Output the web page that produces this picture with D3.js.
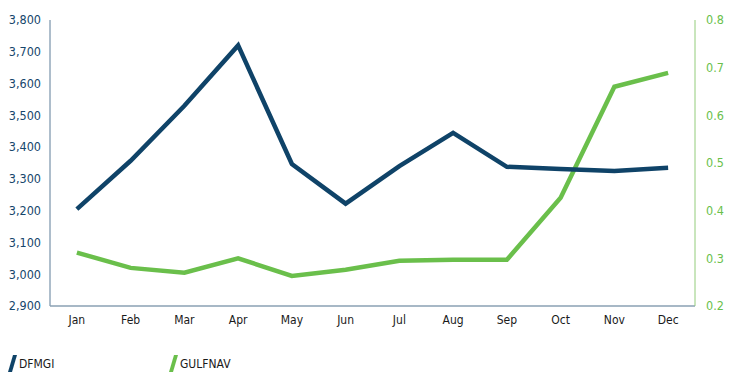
<!DOCTYPE html>
<html>
<head>
<meta charset="utf-8">
<script src="https://cdn.jsdelivr.net/npm/d3@7"></script>
<style>
  body { margin: 0; background: #fff; }
  svg { display: block; font-family: "DejaVu Sans", sans-serif; font-stretch: condensed; }
  .tick-left { fill: #16466b; font-size: 12.5px; }
  .tick-right { fill: #6abf4b; font-size: 12.5px; }
  .month { fill: #1a1a1a; font-size: 12px; }
  .legend-text { fill: #1a1a1a; font-size: 12px; }
</style>
</head>
<body>
<div id="chart"></div>
<script>
var months = ['Jan', 'Feb', 'Mar', 'Apr', 'May', 'Jun', 'Jul', 'Aug', 'Sep', 'Oct', 'Nov', 'Dec'];
var dfmgi = [3205, 3357, 3530, 3720, 3347, 3222, 3340, 3445, 3338, 3331, 3325, 3335];
var gulfnav = [0.312, 0.280, 0.270, 0.300, 0.263, 0.276, 0.295, 0.297, 0.297, 0.427, 0.660, 0.689];
var leftTicks = [2900, 3000, 3100, 3200, 3300, 3400, 3500, 3600, 3700, 3800];
var rightTicks = [0.2, 0.3, 0.4, 0.5, 0.6, 0.7, 0.8];
var seriesNames = ['DFMGI', 'GULFNAV'];

var width = 750;
var height = 380;
var navy = '#0f4368';
var green = '#6abf4b';

var plotLeft = 50, plotRight = 695, plotTop = 20, plotBottom = 306;

var svg = d3.select('#chart')
  .append('svg')
  .attr('width', width)
  .attr('height', height);

var x = d3.scalePoint().domain(months).range([plotLeft, plotRight]).padding(0.5);
var yL = d3.scaleLinear().domain([2900, 3800]).range([plotBottom, plotTop]);
var yR = d3.scaleLinear().domain([0.2, 0.8]).range([plotBottom, plotTop]);

// axes lines
svg.append('line')
  .attr('x1', plotLeft).attr('x2', plotLeft).attr('y1', plotTop).attr('y2', plotBottom)
  .attr('stroke', '#5d7d98').attr('stroke-width', 1);
svg.append('line')
  .attr('x1', plotLeft).attr('x2', plotRight).attr('y1', plotBottom).attr('y2', plotBottom)
  .attr('stroke', '#8aa0b3').attr('stroke-width', 1.5);
svg.append('line')
  .attr('x1', plotRight).attr('x2', plotRight).attr('y1', plotTop).attr('y2', plotBottom)
  .attr('stroke', '#93cc7a').attr('stroke-width', 1);

// tick labels
var fmt = d3.format(',');
svg.selectAll('.tick-left')
  .data(leftTicks)
  .enter().append('text')
  .attr('class', 'tick-left')
  .attr('x', 41)
  .attr('y', function (d) { return yL(d); })
  .attr('dy', '0.35em')
  .attr('text-anchor', 'end')
  .text(function (d) { return fmt(d); });

svg.selectAll('.tick-right')
  .data(rightTicks)
  .enter().append('text')
  .attr('class', 'tick-right')
  .attr('x', 706)
  .attr('y', function (d) { return yR(d); })
  .attr('dy', '0.35em')
  .text(function (d) { return d.toFixed(1); });

svg.selectAll('.month')
  .data(months)
  .enter().append('text')
  .attr('class', 'month')
  .attr('x', function (d) { return x(d); })
  .attr('y', 324)
  .attr('text-anchor', 'middle')
  .text(function (d) { return d; });

// lines
var lineL = d3.line()
  .x(function (d, i) { return x(months[i]); })
  .y(function (d) { return yL(d); });
var lineR = d3.line()
  .x(function (d, i) { return x(months[i]); })
  .y(function (d) { return yR(d); });

svg.append('path')
  .attr('d', lineR(gulfnav))
  .attr('fill', 'none')
  .attr('stroke', green)
  .attr('stroke-width', 4.5)
  .attr('stroke-linejoin', 'miter');

svg.append('path')
  .attr('d', lineL(dfmgi))
  .attr('fill', 'none')
  .attr('stroke', navy)
  .attr('stroke-width', 4.5)
  .attr('stroke-linejoin', 'miter');

// legend
var legendX = [8, 169];
var legendColors = [navy, green];
var legend = svg.selectAll('.legend')
  .data(seriesNames)
  .enter().append('g')
  .attr('class', 'legend')
  .attr('transform', function (d, i) { return 'translate(' + legendX[i] + ',0)'; });

legend.append('path')
  .attr('d', 'M0,372 L5,355 L9,355 L4,372 Z')
  .attr('fill', function (d, i) { return legendColors[i]; });

legend.append('text')
  .attr('class', 'legend-text')
  .attr('x', 11)
  .attr('y', 368)
  .text(function (d) { return d; });
</script>
</body>
</html>
